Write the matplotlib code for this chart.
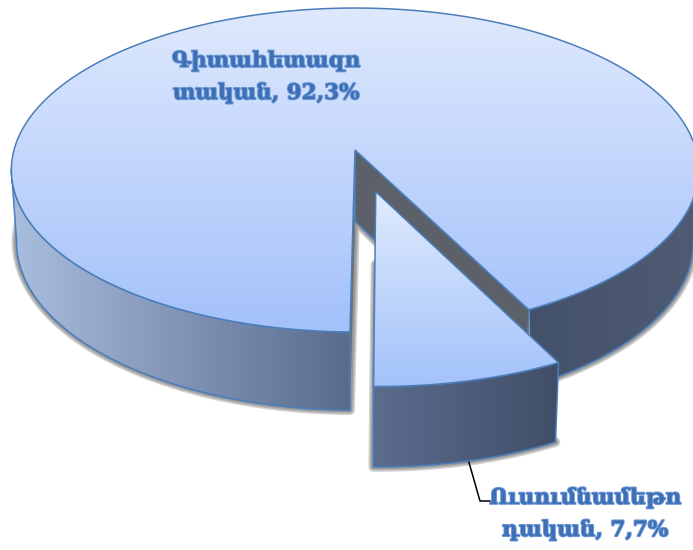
import numpy as np
import matplotlib
matplotlib.use("Agg")
import matplotlib.pyplot as plt
import matplotlib.patheffects as pe
from matplotlib.colors import LinearSegmentedColormap
from matplotlib.patches import Polygon

categories = ["Գիտահետազո\nտական, 92,3%", "Ուսումնամեթո\nդական, 7,7%"]
values = [92.3, 7.7]

plt.rcParams["font.family"] = ["DejaVu Serif", "DejaVu Sans"]

# where the pie sits on the canvas, in pixels
cx, cy = 355, 150
a, b = 341, 159.5
k = 0.1235
height = 71
shrink = 0.985
explode = 0.26
start = np.radians(-0.75)
edge = "#4a7ebb"

fig = plt.figure(figsize=(6.93, 5.5), dpi=100)
ax = fig.add_axes([0, 0, 1, 1])
ax.set_xlim(0, 693)
ax.set_ylim(550, 0)
ax.axis("off")


def project(phi, r=1.0, off=(0, 0), low=False):
    u = r * np.sin(phi) + off[0]
    v = r * np.cos(phi) + off[1]
    w = 1 / (1 - k * v)
    s = shrink if low else 1
    x = cx + a * u * w * s
    y = cy + b * v * w * s
    if low:
        y = y + height * w
    return np.column_stack([x, y])


def gradient(poly, c1, c2, vertical=True, zorder=2, lim=None):
    # gradient image clipped to the polygon
    cmap = LinearSegmentedColormap.from_list("g", [c1, c2])
    ramp = np.linspace(0, 1, 256)
    x0, y0 = poly.min(axis=0)
    x1, y1 = poly.max(axis=0)
    if lim is not None:
        if vertical:
            y0, y1 = lim
        else:
            x0, x1 = lim
    data = ramp[:, None] if vertical else ramp[None, :]
    im = ax.imshow(data, cmap=cmap, extent=[x0, x1, y1, y0], aspect="auto",
                   origin="upper", zorder=zorder, interpolation="bilinear")
    patch = Polygon(poly, closed=True, transform=ax.transData)
    im.set_clip_path(patch)
    ax.add_patch(Polygon(poly, closed=True, fill=False, ec=edge, lw=1.1,
                         zorder=zorder + 0.1, joinstyle="round"))


def shadow(poly, zorder):
    for lw in [7, 5, 3]:
        ax.add_patch(Polygon(poly, closed=True, fc="#505050", ec="#505050", lw=lw,
                             alpha=0.25, zorder=zorder, joinstyle="round"))


def wall(phi, off=(0, 0)):
    return np.vstack([project(phi, off=off), project(phi[::-1], off=off, low=True)])


def face(phi, off=(0, 0)):
    rim = project(phi, off=off)
    apex = project(np.array([0.0]), r=0, off=off)
    return np.vstack([apex, rim])


sweep = 2 * np.pi * values[1] / sum(values)
mid = start + sweep / 2
off = (explode * np.sin(mid), explode * np.cos(mid))
big = np.linspace(start + sweep, start + 2 * np.pi, 400)
small = np.linspace(start, start + sweep, 60)

# shadows come from the bottom faces
low_apex = project(np.array([0.0]), r=0, low=True)
shadow(np.vstack([low_apex, project(big, low=True)]), 1)
low_apex_s = project(np.array([0.0]), r=0, off=off, low=True)
shadow(np.vstack([low_apex_s, project(small, off=off, low=True)]), 1)

# big slice, walls stop at the widest points so the silhouette is straight
xs = project(big)[:, 0]
right = big[:np.argmax(xs) + 1]
left = big[np.argmin(xs):]
gradient(wall(right), "#44516a", "#4e5b73", vertical=False, zorder=2, lim=(530, 693))
gradient(wall(left), "#a9bddf", "#596b8d", vertical=False, zorder=2, lim=(12, 352))

rim_pt = project(np.array([start + sweep]))
rim_low = project(np.array([start + sweep]), low=True)
ap = project(np.array([0.0]), r=0)
ap_low = project(np.array([0.0]), r=0, low=True)
ax.add_patch(Polygon(np.vstack([ap, rim_pt, rim_low, ap_low]), closed=True,
                     fc="#5c6068", ec=edge, lw=1.1, zorder=2.5))
gradient(face(big), "#dfe9fd", "#a3c1fa", zorder=3)

# exploded slice
gradient(wall(small, off=off), "#5b6c8e", "#414e68", vertical=False, zorder=4)
gradient(face(small, off=off), "#e0ebfd", "#a3c2fa", zorder=5)

fx = [pe.withStroke(linewidth=1.4, foreground="#6f9ad6")]
ax.text(266, 77, categories[0], ha="center", va="center", fontsize=15.5,
        fontweight="bold", color="#3c6fb6", linespacing=1.6, path_effects=fx, zorder=6)
ax.text(585, 514, categories[1], ha="center", va="center", fontsize=15.5,
        fontweight="bold", color="#3c6fb6", linespacing=1.6, path_effects=fx, zorder=6)
ax.plot([468, 480, 490], [459, 501, 501], color="black", lw=1.1, zorder=3.5)

fig.savefig("out.png", dpi=100)
